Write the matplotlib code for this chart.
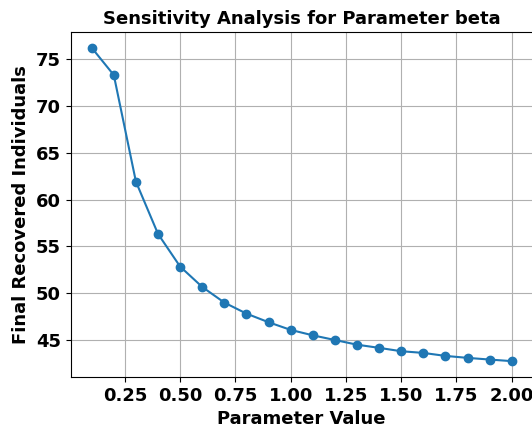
import matplotlib
matplotlib.use("Agg")
import matplotlib.pyplot as plt
from matplotlib.ticker import MultipleLocator

# beta sweep and the final number of recovered individuals for each run
beta_values = [0.1, 0.2, 0.3, 0.4, 0.5, 0.6, 0.7, 0.8, 0.9, 1.0,
               1.1, 1.2, 1.3, 1.4, 1.5, 1.6, 1.7, 1.8, 1.9, 2.0]
final_recovered = [76.24, 73.32, 61.93, 56.34, 52.85, 50.67, 49.0, 47.82, 46.9, 46.08,
                   45.5, 45.0, 44.5, 44.16, 43.8, 43.62, 43.3, 43.09, 42.91, 42.74]

fig = plt.figure(figsize=(5.32, 4.28), dpi=100)
ax = fig.add_axes([0.1329, 0.1196, 0.8685, 0.8054])

ax.plot(beta_values, final_recovered, marker='o')
ax.grid(True)
ax.xaxis.set_major_locator(MultipleLocator(0.25))

ax.set_title('Sensitivity Analysis for Parameter beta', fontsize=13, fontweight='bold')
ax.set_xlabel('Parameter Value', fontsize=13, fontweight='bold')
ax.set_ylabel('Final Recovered Individuals', fontsize=13, fontweight='bold')
ax.tick_params(labelsize=13)
for lbl in ax.get_xticklabels() + ax.get_yticklabels():
    lbl.set_fontweight('bold')

plt.savefig("out.png")
